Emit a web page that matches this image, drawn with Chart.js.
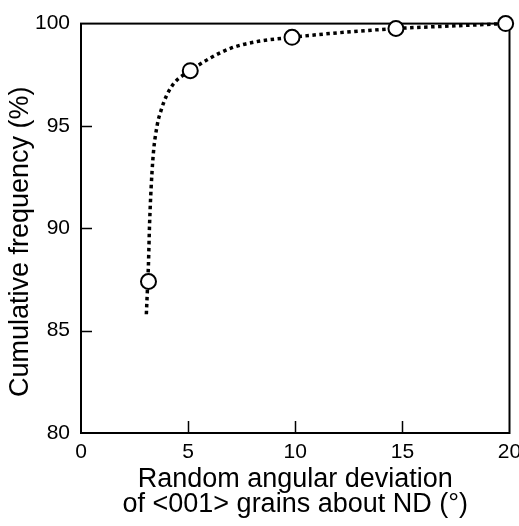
<!DOCTYPE html>
<html>
<head>
<meta charset="utf-8">
<script src="https://cdn.jsdelivr.net/npm/chart.js@4.4.1/dist/chart.umd.min.js"></script>
<style>
  html, body { margin: 0; padding: 0; background: #fff; }
</style>
</head>
<body>
<canvas id="freqChart" width="519" height="526"></canvas>
<script>
// measured points (open circles)
const pointX = [3.15, 5.1, 9.85, 14.7, 19.82];
const pointY = [87.4, 97.7, 99.33, 99.76, 100];

// dotted guide curve
const curveX = [3.05, 3.1, 3.15, 3.2, 3.35, 3.55, 3.75, 4.0, 4.35, 5.1, 6.0, 7.0, 8.1, 9.85, 12.0, 14.7, 17.0, 19.82];
const curveY = [85.8, 87.0, 88.3, 90.2, 93.3, 95.0, 95.8, 96.5, 97.1, 97.7, 98.3, 98.8, 99.1, 99.33, 99.55, 99.76, 99.87, 100];

const xTicks = [0, 5, 10, 15, 20];
const yTicks = [80, 85, 90, 95, 100];

const tickFont = { family: '"Liberation Sans Narrow", "Liberation Sans", Arial, sans-serif', size: 21 };
const titleFont = { family: '"Liberation Sans", Arial, sans-serif', size: 27, lineHeight: 0.96 };

const toXY = (xs, ys) => xs.map((x, i) => ({ x, y: ys[i] }));

// box around the plot plus short inward tick marks
const framePlugin = {
    id: 'frame',
    beforeDatasetsDraw(chart) {
        const { ctx, chartArea: a, scales: { x, y } } = chart;
        ctx.save();
        ctx.strokeStyle = '#000';
        ctx.lineWidth = 2;
        ctx.strokeRect(a.left, a.top, a.right - a.left, a.bottom - a.top);
        ctx.lineWidth = 1.5;
        ctx.beginPath();
        xTicks.slice(1, -1).forEach(v => {
            const px = Math.round(x.getPixelForValue(v)) + 0.5;
            ctx.moveTo(px, a.bottom);
            ctx.lineTo(px, a.bottom - 12);
        });
        yTicks.slice(1, -1).forEach(v => {
            const py = Math.round(y.getPixelForValue(v)) + 0.5;
            ctx.moveTo(a.left, py);
            ctx.lineTo(a.left + 11, py);
        });
        ctx.stroke();
        ctx.restore();
    }
};

new Chart(document.getElementById('freqChart'), {
    type: 'scatter',
    data: {
        datasets: [
            {
                label: 'measured',
                data: toXY(pointX, pointY),
                showLine: false,
                pointRadius: 7.5,
                pointBorderWidth: 2,
                pointBorderColor: '#000',
                pointBackgroundColor: '#fff',
                clip: false
            },
            {
                label: 'curve',
                data: toXY(curveX, curveY),
                showLine: true,
                borderColor: '#000',
                borderWidth: 3.5,
                borderDash: [3.5, 3.5],
                borderCapStyle: 'butt',
                cubicInterpolationMode: 'monotone',
                pointRadius: 0,
                clip: false
            }
        ]
    },
    options: {
        responsive: false,
        animation: false,
        layout: { padding: { top: 15, right: 6, left: 0, bottom: 0 } },
        plugins: {
            legend: { display: false },
            tooltip: { enabled: false }
        },
        scales: {
            x: {
                type: 'linear',
                min: 0,
                max: 20,
                afterBuildTicks: s => { s.ticks = xTicks.map(v => ({ value: v })); },
                afterFit: s => { s.height = 93; s.paddingLeft = 0; s.paddingRight = 0; },
                grid: { display: false, drawTicks: false },
                border: { display: false },
                ticks: {
                    color: '#000',
                    padding: 7,
                    maxRotation: 0,
                    autoSkip: false,
                    font: tickFont
                },
                title: {
                    display: true,
                    text: ['Random angular deviation', 'of <001> grains about ND (\u00B0)'],
                    color: '#000',
                    padding: { top: 0, bottom: 8 },
                    font: titleFont
                }
            },
            y: {
                type: 'linear',
                min: 80,
                max: 100,
                afterBuildTicks: s => { s.ticks = yTicks.map(v => ({ value: v })); },
                afterFit: s => { s.width = 81; },
                grid: { display: false, drawTicks: false },
                border: { display: false },
                ticks: {
                    color: '#000',
                    padding: 11,
                    font: tickFont
                },
                title: {
                    display: true,
                    // trailing en spaces nudge the rotated title down like the original
                    text: 'Cumulative frequency (%)\u2002\u2002',
                    color: '#000',
                    padding: { top: 8, bottom: 0 },
                    font: titleFont
                }
            }
        }
    },
    plugins: [framePlugin]
});
</script>
</body>
</html>
